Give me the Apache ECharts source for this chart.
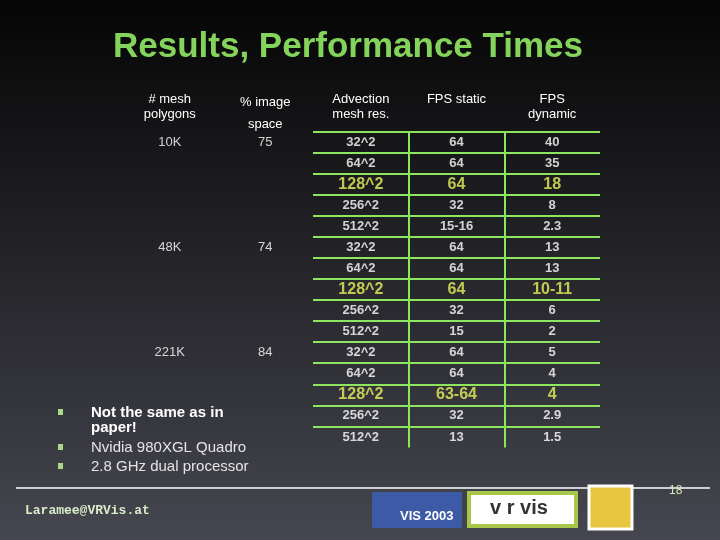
<!DOCTYPE html>
<html><head><meta charset="utf-8">
<script src="https://cdn.jsdelivr.net/npm/echarts@6/dist/echarts.min.js"></script>
<style>html,body{margin:0;padding:0;background:#000}#c{width:720px;height:540px}</style>
</head><body><div id="c"></div>
<script>
// table data
const leftHeaders = ['# mesh\npolygons', '{a|% image}\n{a|space}'];
const rightHeaders = ['Advection\nmesh res.', 'FPS static', 'FPS\ndynamic'];
const meshPolygons = ['10K', '', '', '', '', '48K', '', '', '', '', '221K', '', '', '', ''];
const imageSpace = ['75', '', '', '', '', '74', '', '', '', '', '84', '', '', '', ''];
const advection = ['32^2', '64^2', '128^2', '256^2', '512^2', '32^2', '64^2', '128^2', '256^2', '512^2', '32^2', '64^2', '128^2', '256^2', '512^2'];
const fpsStatic = ['64', '64', '64', '32', '15-16', '64', '64', '64', '32', '15', '64', '64', '63-64', '32', '13'];
const fpsDynamic = ['40', '35', '18', '8', '2.3', '13', '13', '10-11', '6', '2', '5', '4', '4', '2.9', '1.5'];
const highlightRows = [2, 7, 12];
const bullets = ['Not the same as in\npaper!', 'Nvidia 980XGL Quadro', '2.8 GHz dual processor'];

const rows = advection.map((_, i) => String(i));
const green = '#8ee65f';
const font = 'Liberation Sans, Arial, sans-serif';

function cells(cols) {
    const out = [];
    cols.forEach((col, c) => col.forEach((v, r) => {
        if (v === '') return;
        const hi = highlightRows.includes(r);
        out.push({
            value: [c, r], name: v,
            label: { color: hi ? '#e8f25a' : '#ffffff', fontSize: hi ? 16 : 13 }
        });
    }));
    return out;
}

const chart = echarts.init(document.getElementById('c'));
const axisCommon = { axisLine: { show: false }, axisTick: { show: false } };
const headerLabel = { color: '#fff', fontSize: 13, fontFamily: font, lineHeight: 15, margin: 40,
                      verticalAlign: 'top', interval: 0 };
const option = {
    backgroundColor: '#000',
    graphic: [
        { type: 'rect', z: -10, shape: { x: 0, y: 0, width: 720, height: 540 },
          style: { fill: new echarts.graphic.LinearGradient(0, 0, 0, 1, [
              { offset: 0, color: '#050505' }, { offset: 1, color: '#45464f' }]) } },
        { type: 'text', x: 348, y: 30, style: { text: 'Results, Performance Times', fill: '#84d45c',
          font: 'bold 35px ' + font, textAlign: 'center' } },
        // bullets
        ...bullets.map((b, i) => ({ type: 'group', left: 58, top: [405, 440, 459][i], children: [
            { type: 'rect', shape: { x: 0, y: 4, width: 5, height: 6 }, style: { fill: '#a9d88a' } },
            { type: 'text', x: 33, y: 0, style: { text: b, fill: i === 0 ? '#ffffff' : '#e4e4e4',
              font: (i === 0 ? 'bold ' : '') + '15px ' + font, lineHeight: 15 } }
        ] })),
        { type: 'line', shape: { x1: 16, y1: 488, x2: 710, y2: 488 }, style: { stroke: '#ffffff', lineWidth: 1.5 } },
        { type: 'text', x: 25, y: 504, style: { text: 'Laramee@VRVis.at', fill: '#d8ecc8', font: 'bold 13px Liberation Mono, monospace' } },
        { type: 'text', x: 669, y: 485, style: { text: '18', fill: '#cfe8b8', font: '12px ' + font } },
        // logos
        { type: 'rect', shape: { x: 372, y: 492, width: 90, height: 36 }, style: { fill: '#3d5aa6' } },
        { type: 'text', x: 400, y: 510, style: { text: 'VIS 2003', fill: '#ffffff', font: 'bold 13px ' + font } },
        { type: 'rect', shape: { x: 469, y: 493, width: 107, height: 33 }, style: { fill: '#ffffff', stroke: '#a8c64a', lineWidth: 4 } },
        { type: 'text', x: 490, y: 498, style: { text: 'v r vis', fill: '#333333', font: 'bold 20px ' + font } },
        { type: 'rect', shape: { x: 589, y: 486, width: 43, height: 43 }, style: { fill: '#e9c640', stroke: '#ffffff', lineWidth: 3 } }
    ],
    grid: [
        { left: 122, top: 131.5, width: 191, height: 316 },
        { left: 313, top: 131.5, width: 287, height: 316 }
    ],
    xAxis: [
        { gridIndex: 0, type: 'category', position: 'top', data: leftHeaders, ...axisCommon,
          axisLabel: { ...headerLabel, rich: { a: { color: '#fff', fontSize: 13, fontFamily: font, lineHeight: 22 } } } },
        { gridIndex: 1, type: 'category', position: 'top', data: rightHeaders, ...axisCommon,
          axisLabel: headerLabel,
          splitLine: { show: true, showMinLine: false, showMaxLine: false, lineStyle: { color: green, width: 2 } } }
    ],
    yAxis: [
        { gridIndex: 0, type: 'category', inverse: true, data: rows, ...axisCommon, axisLabel: { show: false } },
        { gridIndex: 1, type: 'category', inverse: true, data: rows, ...axisCommon, axisLabel: { show: false },
          splitLine: { show: true, showMaxLine: false, lineStyle: { color: green, width: 2 } } }
    ],
    series: [
        { type: 'scatter', xAxisIndex: 0, yAxisIndex: 0, symbolSize: 0, silent: true,
          label: { show: true, position: 'inside', formatter: p => p.name, fontFamily: font },
          data: cells([meshPolygons, imageSpace]) },
        { type: 'scatter', xAxisIndex: 1, yAxisIndex: 1, symbolSize: 0, silent: true,
          label: { show: true, position: 'inside', formatter: p => p.name, fontFamily: font, fontWeight: 'bold' },
          data: cells([advection, fpsStatic, fpsDynamic]) }
    ]
};
chart.setOption(option);
</script></body></html>
